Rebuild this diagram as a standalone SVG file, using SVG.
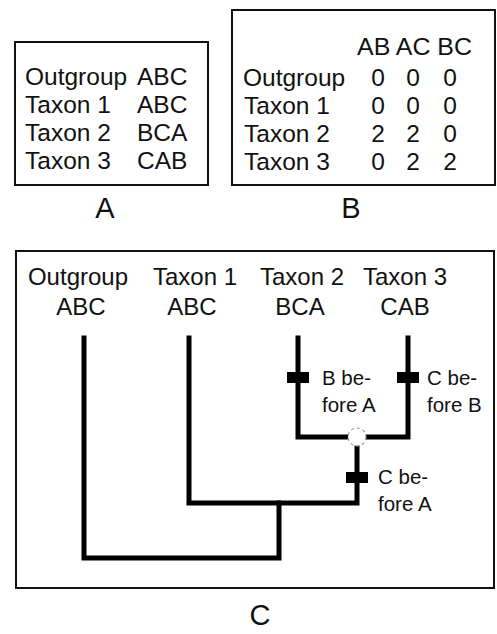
<svg xmlns="http://www.w3.org/2000/svg" width="497" height="634" viewBox="0 0 497 634">
  <style>
    text { font-family: "Liberation Sans", Arial, sans-serif; fill: #111; }
    .tbl { font-size: 24.5px; }
    .num { font-size: 24.5px; text-anchor: middle; }
    .hdr { font-size: 24px; text-anchor: middle; }
    .note { font-size: 20.5px; }
    .panel-label { font-size: 29px; text-anchor: middle; }
    .frame { fill: #fff; stroke: #111; stroke-width: 2; }
    .branch { fill: none; stroke: #000; stroke-width: 5; stroke-linejoin: miter; stroke-linecap: square; }
    .tick { fill: #000; }
    .node-open { fill: #fff; stroke: #999; stroke-width: 1.2; stroke-dasharray: 3 3; }
  </style>

  <rect width="497" height="634" fill="#fff"/>

  <!-- Panel A: character orders per taxon -->
  <g id="panel-a">
    <rect class="frame" x="15" y="42" width="193" height="143"/>
    <text class="tbl" x="25" y="85">Outgroup</text>
    <text class="tbl" x="137" y="85">ABC</text>
    <text class="tbl" x="25" y="113">Taxon 1</text>
    <text class="tbl" x="137" y="113">ABC</text>
    <text class="tbl" x="25" y="141">Taxon 2</text>
    <text class="tbl" x="137" y="141">BCA</text>
    <text class="tbl" x="25" y="169">Taxon 3</text>
    <text class="tbl" x="137" y="169">CAB</text>
    <text class="panel-label" x="105" y="218">A</text>
  </g>

  <!-- Panel B: pairwise coding -->
  <g id="panel-b">
    <rect class="frame" x="232" y="10" width="263" height="175"/>
    <text class="tbl" x="357" y="55" textLength="115" lengthAdjust="spacingAndGlyphs">AB AC BC</text>
    <text class="tbl" x="243" y="86">Outgroup</text>
    <text class="tbl" x="244" y="114">Taxon 1</text>
    <text class="tbl" x="244" y="142">Taxon 2</text>
    <text class="tbl" x="244" y="170">Taxon 3</text>
    <text class="num" x="378" y="86">0</text>
    <text class="num" x="413" y="86">0</text>
    <text class="num" x="450" y="86">0</text>
    <text class="num" x="378" y="114">0</text>
    <text class="num" x="413" y="114">0</text>
    <text class="num" x="450" y="114">0</text>
    <text class="num" x="378" y="142">2</text>
    <text class="num" x="413" y="142">2</text>
    <text class="num" x="450" y="142">0</text>
    <text class="num" x="378" y="170">0</text>
    <text class="num" x="413" y="170">2</text>
    <text class="num" x="450" y="170">2</text>
    <text class="panel-label" x="351" y="218">B</text>
  </g>

  <!-- Panel C: tree frame -->
  <rect class="frame" x="16" y="251" width="478" height="337"/>

  <!-- Tree branches -->
  <g id="connectors">
    <polyline class="branch" points="84,338 84,558 279,558 279,503"/>
    <polyline class="branch" points="189,338 189,503 357,503 357,437"/>
    <polyline class="branch" points="298,338 298,437 408,437 408,338"/>
  </g>

  <!-- Terminal taxa -->
  <g id="outgroup">
    <text class="hdr" x="78" y="285">Outgroup</text>
    <text class="hdr" x="81" y="315">ABC</text>
  </g>
  <g id="taxon-1">
    <text class="hdr" x="195" y="285">Taxon 1</text>
    <text class="hdr" x="192" y="315">ABC</text>
  </g>
  <g id="taxon-2">
    <text class="hdr" x="302" y="285">Taxon 2</text>
    <text class="hdr" x="300" y="315">BCA</text>
  </g>
  <g id="taxon-3">
    <text class="hdr" x="405" y="285">Taxon 3</text>
    <text class="hdr" x="405" y="315">CAB</text>
  </g>

  <!-- Ancestral node between taxa 2 and 3 -->
  <g id="node-23">
    <circle class="node-open" cx="357" cy="437" r="9"/>
  </g>

  <!-- Character-state changes -->
  <g id="change-b-before-a">
    <rect class="tick" x="287" y="372" width="22" height="11"/>
    <text class="note" x="322" y="385">B be-</text>
    <text class="note" x="322" y="412">fore A</text>
  </g>
  <g id="change-c-before-b">
    <rect class="tick" x="397" y="372" width="22" height="11"/>
    <text class="note" x="427" y="385">C be-</text>
    <text class="note" x="427" y="412">fore B</text>
  </g>
  <g id="change-c-before-a">
    <rect class="tick" x="346" y="472" width="22" height="11"/>
    <text class="note" x="378" y="484">C be-</text>
    <text class="note" x="378" y="511">fore A</text>
  </g>

  <text class="panel-label" x="260" y="625">C</text>
</svg>
